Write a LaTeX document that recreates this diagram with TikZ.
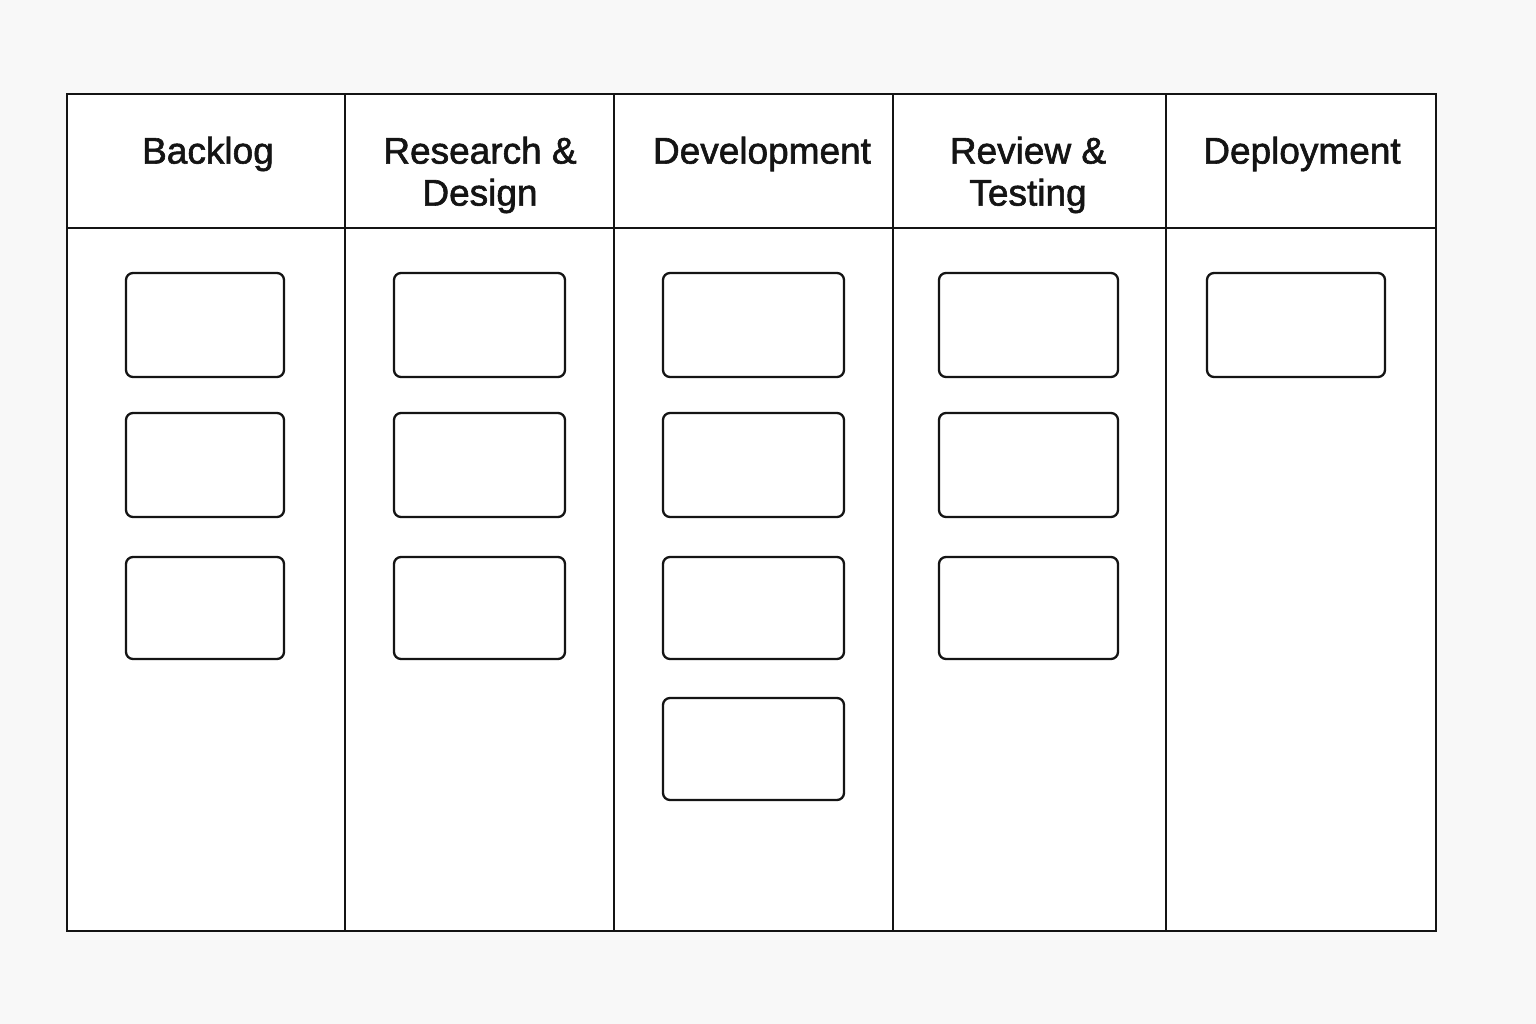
\documentclass[tikz,border=0pt]{standalone}
\usepackage{fontspec}
\setmainfont{Liberation Sans}
\newfontfamily\headfont{Liberation Sans}[FakeBold=1.6]
\definecolor{pagebg}{HTML}{F8F8F8}
\definecolor{ink}{HTML}{141414}
\begin{document}
\begin{tikzpicture}[x=1pt,y=-1pt,
  board/.style={draw=ink,line width=2.3pt,fill=white},
  rule/.style={draw=ink,line width=1.9pt},
  card/.style={draw=ink,line width=2.3pt,rounded corners=7pt,fill=white},
  head/.style={align=center,font=\headfont\fontsize{37}{42}\selectfont,text=ink,inner sep=0pt}]
  % page
  \fill[pagebg] (0,0) rectangle (1536,1024);
  \useasboundingbox (0,0) rectangle (1536,1024);
  % board frame, header rule and column dividers
  \draw[board] (67,94) rectangle (1436,931);
  \draw[rule] (67,228) -- (1436,228);
  \foreach \x in {345,614,893,1166} \draw[rule] (\x,94) -- (\x,931);
  % column headings
  \node[head] (hback) at (208,154) {Backlog};
  \node[head] (hres) at (480,175) {Research \&\\Design};
  \node[head] (hdev) at (762,154) {Development};
  \node[head] (hrev) at (1028,175) {Review \&\\Testing};
  \node[head] (hdep) at (1302,154) {Deployment};
  % cards
  \foreach \y/\h [count=\i] in {273/377,413/517,557/659} {
    \draw[card] (126,\y) rectangle (284,\h);
    \draw[card] (394,\y) rectangle (565,\h);
    \draw[card] (663,\y) rectangle (844,\h);
    \draw[card] (939,\y) rectangle (1118,\h);
  }
  \draw[card] (663,698) rectangle (844,800);
  \draw[card] (1207,273) rectangle (1385,377);
\end{tikzpicture}
\end{document}
